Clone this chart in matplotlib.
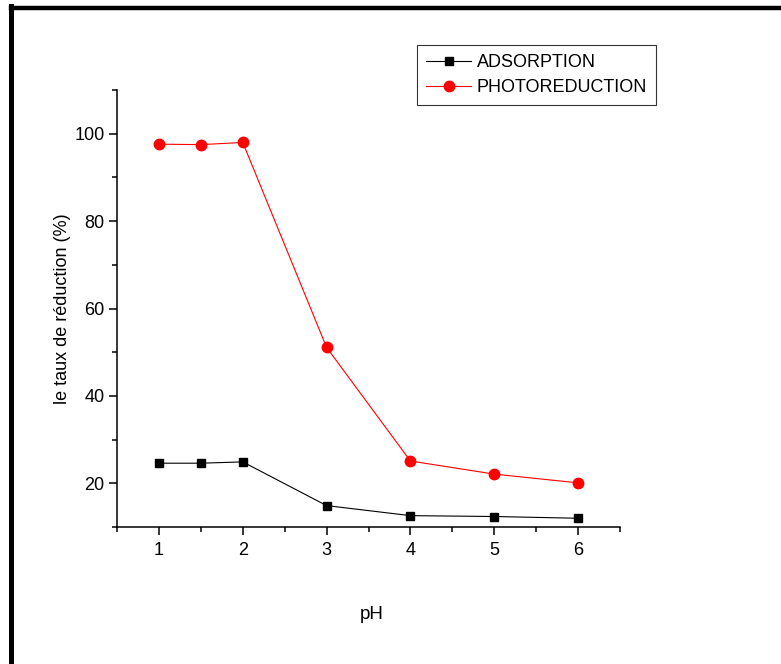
import matplotlib
matplotlib.use("Agg")
import matplotlib.pyplot as plt
from matplotlib.lines import Line2D
from matplotlib.ticker import MultipleLocator

plt.rcParams['font.family'] = ['Liberation Sans', 'DejaVu Sans']

ph = [1, 1.5, 2, 3, 4, 5, 6]
adsorption = [24.6, 24.6, 24.9, 14.9, 12.6, 12.4, 12.0]
photoreduction = [97.6, 97.5, 98.0, 51.1, 25.1, 22.1, 20.1]

W, H = 781, 664
fig = plt.figure(figsize=(W / 100, H / 100), dpi=100)
ax = fig.add_axes([117 / W, 1 - 527 / H, (620 - 117) / W, (527 - 90) / H])

ax.plot(ph, adsorption, color='black', lw=0.8, marker='s', ms=6,
        label='ADSORPTION')
ax.plot(ph, photoreduction, color='red', lw=0.8, marker='o', ms=7.5,
        label='PHOTOREDUCTION')

ax.set_xlim(0.5, 6.5)
ax.set_ylim(10, 110)
ax.xaxis.set_minor_locator(MultipleLocator(0.5))
ax.yaxis.set_minor_locator(MultipleLocator(10))
ax.set_xticks([1, 2, 3, 4, 5, 6])
ax.set_yticks([20, 40, 60, 80, 100])

for side in ('top', 'right'):
    ax.spines[side].set_visible(False)
for side in ('left', 'bottom'):
    ax.spines[side].set_linewidth(1.1)

ax.tick_params(which='major', direction='out', length=6, width=1.1,
               labelsize=13, pad=3)
ax.tick_params(which='minor', direction='out', length=3.5, width=1.1)
ax.tick_params(axis='x', which='major', pad=5)

ax.set_ylabel('le taux de réduction (%)', fontsize=13, labelpad=2)
ax.set_xlabel('pH', fontsize=13.5)
ax.xaxis.set_label_coords((372 - 117) / (620 - 117), -(606 - 527) / (527 - 90))

leg = ax.legend(loc='upper left', bbox_to_anchor=(417 / W, 1 - 45 / H),
                bbox_transform=fig.transFigure, fontsize=13,
                frameon=True, fancybox=False, edgecolor='black',
                handlelength=2.5, handletextpad=0.3, borderpad=0.5,
                labelspacing=0.45, borderaxespad=0)
leg.get_frame().set_linewidth(0.8)

# outer frame around the figure
fig.add_artist(Line2D([10.5 / W, 1], [1 - 8 / H, 1 - 8 / H],
                      transform=fig.transFigure, color='black', lw=3.2))
fig.add_artist(Line2D([10.5 / W, 10.5 / W], [0, 1 - 6 / H],
                      transform=fig.transFigure, color='black', lw=3.6))

fig.savefig('out.png', dpi=100)
